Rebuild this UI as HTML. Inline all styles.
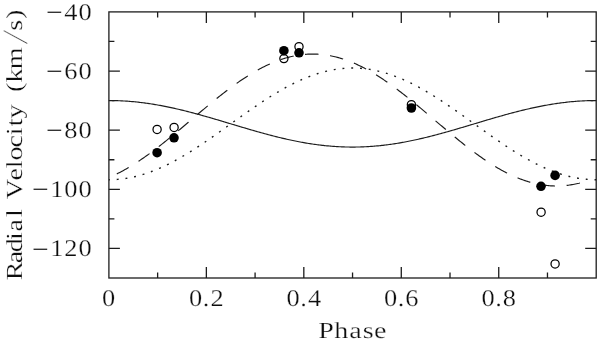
<!DOCTYPE html>
<html><head><meta charset="utf-8">
<style>html,body{margin:0;padding:0;background:#fff}svg{display:block}</style></head>
<body>
<svg width="600" height="341" viewBox="0 0 600 341">
<rect x="0" y="0" width="600" height="341" fill="#fff"/>
<rect x="108.9" y="11.9" width="487.30" height="266.10" fill="none" stroke="#1c1c1c" stroke-width="1.3"/>
<path d="M157.63 278.0v-5.5M157.63 11.9v5.5M206.36 278.0v-11M206.36 11.9v11M255.09 278.0v-5.5M255.09 11.9v5.5M303.82 278.0v-11M303.82 11.9v11M352.55 278.0v-5.5M352.55 11.9v5.5M401.28 278.0v-11M401.28 11.9v11M450.01 278.0v-5.5M450.01 11.9v5.5M498.74 278.0v-11M498.74 11.9v11M547.47 278.0v-5.5M547.47 11.9v5.5M108.9 248.43h11M596.2 248.43h-11M108.9 218.87h5.5M596.2 218.87h-5.5M108.9 189.30h11M596.2 189.30h-11M108.9 159.73h5.5M596.2 159.73h-5.5M108.9 130.17h11M596.2 130.17h-11M108.9 100.60h5.5M596.2 100.60h-5.5M108.9 71.03h11M596.2 71.03h-11M108.9 41.47h5.5M596.2 41.47h-5.5" fill="none" stroke="#1c1c1c" stroke-width="1.3"/>
<path d="M108.90 100.54L110.12 100.54L111.34 100.55L112.55 100.57L113.77 100.59L114.99 100.61L116.21 100.64L117.43 100.68L118.65 100.72L119.86 100.77L121.08 100.83L122.30 100.89L123.52 100.95L124.74 101.02L125.96 101.10L127.17 101.18L128.39 101.27L129.61 101.37L130.83 101.46L132.05 101.57L133.27 101.68L134.48 101.80L135.70 101.92L136.92 102.04L138.14 102.17L139.36 102.31L140.57 102.45L141.79 102.60L143.01 102.76L144.23 102.91L145.45 103.08L146.67 103.25L147.88 103.42L149.10 103.60L150.32 103.78L151.54 103.97L152.76 104.16L153.98 104.36L155.19 104.56L156.41 104.77L157.63 104.98L158.85 105.20L160.07 105.42L161.28 105.65L162.50 105.88L163.72 106.12L164.94 106.36L166.16 106.60L167.38 106.85L168.59 107.10L169.81 107.36L171.03 107.62L172.25 107.88L173.47 108.15L174.69 108.42L175.90 108.70L177.12 108.98L178.34 109.26L179.56 109.55L180.78 109.84L182.00 110.13L183.21 110.43L184.43 110.73L185.65 111.03L186.87 111.34L188.09 111.65L189.30 111.96L190.52 112.28L191.74 112.60L192.96 112.92L194.18 113.25L195.40 113.57L196.61 113.90L197.83 114.23L199.05 114.57L200.27 114.91L201.49 115.24L202.71 115.58L203.92 115.93L205.14 116.27L206.36 116.62L207.58 116.97L208.80 117.32L210.01 117.67L211.23 118.02L212.45 118.38L213.67 118.73L214.89 119.09L216.11 119.45L217.32 119.81L218.54 120.17L219.76 120.53L220.98 120.89L222.20 121.26L223.42 121.62L224.63 121.98L225.85 122.35L227.07 122.71L228.29 123.08L229.51 123.44L230.73 123.81L231.94 124.18L233.16 124.54L234.38 124.91L235.60 125.27L236.82 125.64L238.03 126.00L239.25 126.36L240.47 126.73L241.69 127.09L242.91 127.45L244.13 127.81L245.34 128.17L246.56 128.53L247.78 128.89L249.00 129.24L250.22 129.60L251.44 129.95L252.65 130.30L253.87 130.65L255.09 131.00L256.31 131.35L257.53 131.69L258.74 132.03L259.96 132.38L261.18 132.71L262.40 133.05L263.62 133.39L264.84 133.72L266.05 134.05L267.27 134.37L268.49 134.70L269.71 135.02L270.93 135.34L272.15 135.65L273.36 135.97L274.58 136.28L275.80 136.59L277.02 136.89L278.24 137.19L279.46 137.49L280.67 137.78L281.89 138.07L283.11 138.36L284.33 138.64L285.55 138.92L286.76 139.20L287.98 139.47L289.20 139.74L290.42 140.00L291.64 140.26L292.86 140.52L294.07 140.77L295.29 141.02L296.51 141.26L297.73 141.50L298.95 141.74L300.17 141.97L301.38 142.20L302.60 142.42L303.82 142.63L305.04 142.85L306.26 143.06L307.47 143.26L308.69 143.46L309.91 143.65L311.13 143.84L312.35 144.02L313.57 144.20L314.78 144.37L316.00 144.54L317.22 144.71L318.44 144.86L319.66 145.02L320.88 145.17L322.09 145.31L323.31 145.44L324.53 145.58L325.75 145.70L326.97 145.82L328.19 145.94L329.40 146.05L330.62 146.15L331.84 146.25L333.06 146.35L334.28 146.44L335.49 146.52L336.71 146.60L337.93 146.67L339.15 146.73L340.37 146.79L341.59 146.85L342.80 146.90L344.02 146.94L345.24 146.98L346.46 147.01L347.68 147.03L348.90 147.05L350.11 147.07L351.33 147.08L352.55 147.08L353.77 147.08L354.99 147.07L356.20 147.05L357.42 147.03L358.64 147.01L359.86 146.98L361.08 146.94L362.30 146.90L363.51 146.85L364.73 146.79L365.95 146.73L367.17 146.67L368.39 146.60L369.61 146.52L370.82 146.44L372.04 146.35L373.26 146.25L374.48 146.15L375.70 146.05L376.92 145.94L378.13 145.82L379.35 145.70L380.57 145.58L381.79 145.44L383.01 145.31L384.22 145.17L385.44 145.02L386.66 144.86L387.88 144.71L389.10 144.54L390.32 144.37L391.53 144.20L392.75 144.02L393.97 143.84L395.19 143.65L396.41 143.46L397.63 143.26L398.84 143.06L400.06 142.85L401.28 142.63L402.50 142.42L403.72 142.20L404.93 141.97L406.15 141.74L407.37 141.50L408.59 141.26L409.81 141.02L411.03 140.77L412.24 140.52L413.46 140.26L414.68 140.00L415.90 139.74L417.12 139.47L418.34 139.20L419.55 138.92L420.77 138.64L421.99 138.36L423.21 138.07L424.43 137.78L425.65 137.49L426.86 137.19L428.08 136.89L429.30 136.59L430.52 136.28L431.74 135.97L432.95 135.65L434.17 135.34L435.39 135.02L436.61 134.70L437.83 134.37L439.05 134.05L440.26 133.72L441.48 133.39L442.70 133.05L443.92 132.71L445.14 132.38L446.36 132.03L447.57 131.69L448.79 131.35L450.01 131.00L451.23 130.65L452.45 130.30L453.66 129.95L454.88 129.60L456.10 129.24L457.32 128.89L458.54 128.53L459.76 128.17L460.97 127.81L462.19 127.45L463.41 127.09L464.63 126.73L465.85 126.36L467.07 126.00L468.28 125.64L469.50 125.27L470.72 124.91L471.94 124.54L473.16 124.18L474.38 123.81L475.59 123.44L476.81 123.08L478.03 122.71L479.25 122.35L480.47 121.98L481.68 121.62L482.90 121.26L484.12 120.89L485.34 120.53L486.56 120.17L487.78 119.81L488.99 119.45L490.21 119.09L491.43 118.73L492.65 118.38L493.87 118.02L495.09 117.67L496.30 117.32L497.52 116.97L498.74 116.62L499.96 116.27L501.18 115.93L502.39 115.58L503.61 115.24L504.83 114.91L506.05 114.57L507.27 114.23L508.49 113.90L509.70 113.57L510.92 113.25L512.14 112.92L513.36 112.60L514.58 112.28L515.80 111.96L517.01 111.65L518.23 111.34L519.45 111.03L520.67 110.73L521.89 110.43L523.11 110.13L524.32 109.84L525.54 109.55L526.76 109.26L527.98 108.98L529.20 108.70L530.41 108.42L531.63 108.15L532.85 107.88L534.07 107.62L535.29 107.36L536.51 107.10L537.72 106.85L538.94 106.60L540.16 106.36L541.38 106.12L542.60 105.88L543.82 105.65L545.03 105.42L546.25 105.20L547.47 104.98L548.69 104.77L549.91 104.56L551.12 104.36L552.34 104.16L553.56 103.97L554.78 103.78L556.00 103.60L557.22 103.42L558.43 103.25L559.65 103.08L560.87 102.91L562.09 102.76L563.31 102.60L564.53 102.45L565.74 102.31L566.96 102.17L568.18 102.04L569.40 101.92L570.62 101.80L571.84 101.68L573.05 101.57L574.27 101.46L575.49 101.37L576.71 101.27L577.93 101.18L579.14 101.10L580.36 101.02L581.58 100.95L582.80 100.89L584.02 100.83L585.24 100.77L586.45 100.72L587.67 100.68L588.89 100.64L590.11 100.61L591.33 100.59L592.55 100.57L593.76 100.55L594.98 100.54L596.20 100.54" fill="none" stroke="#1c1c1c" stroke-width="1.15"/>
<path d="M116.80 173.92L117.97 173.34L119.15 172.74L120.32 172.14L121.49 171.52L122.66 170.89L123.84 170.25L125.01 169.60L126.18 168.93L127.36 168.26L128.53 167.57L129.70 166.88L130.88 166.17L132.05 165.45L133.22 164.72L134.39 163.98L135.57 163.23L136.74 162.48L137.91 161.71L139.09 160.93L140.26 160.14L141.43 159.34L142.61 158.54L143.78 157.72L144.95 156.90L146.12 156.07L147.30 155.23L148.47 154.38L149.64 153.53L150.82 152.66L151.99 151.79L153.16 150.92L154.34 150.03L155.51 149.14L156.68 148.24L157.85 147.34L159.03 146.42L160.20 145.51L161.37 144.58L162.55 143.66L163.72 142.72L164.89 141.78L166.07 140.84L167.24 139.89L168.41 138.93L169.58 137.98L170.76 137.01L171.93 136.05L173.10 135.08L174.28 134.11L175.45 133.13L176.62 132.15L177.80 131.17L178.97 130.18L180.14 129.20L181.31 128.21L182.49 127.22L183.66 126.23L184.83 125.23L186.01 124.24L187.18 123.24L188.35 122.24L189.53 121.25L190.70 120.25L191.87 119.25L193.05 118.25L194.22 117.26L195.39 116.26L196.56 115.26L197.74 114.27L198.91 113.28L200.08 112.28L201.26 111.30L202.43 110.31L203.60 109.32L204.77 108.34L205.95 107.36L207.12 106.38L208.29 105.41L209.47 104.43L210.64 103.47L211.81 102.50L212.99 101.54L214.16 100.59L215.33 99.64L216.50 98.69L217.68 97.75L218.85 96.81L220.02 95.88L221.20 94.96L222.37 94.04L223.54 93.12L224.72 92.21L225.89 91.31L227.06 90.42L228.24 89.53L229.41 88.65L230.58 87.77L231.75 86.91L232.93 86.05L234.10 85.20L235.27 84.35L236.45 83.52L237.62 82.69L238.79 81.87L239.97 81.07L241.14 80.26L242.31 79.47L243.48 78.69L244.66 77.92L245.83 77.15L247.00 76.40L248.18 75.66L249.35 74.93L250.52 74.20L251.69 73.49L252.87 72.79L254.04 72.10L255.21 71.42L256.39 70.75L257.56 70.09L258.73 69.44L259.91 68.81L261.08 68.19L262.25 67.58L263.43 66.98L264.60 66.39L265.77 65.82L266.94 65.25L268.12 64.70L269.29 64.17L270.46 63.64L271.64 63.13L272.81 62.63L273.98 62.15L275.15 61.68L276.33 61.22L277.50 60.77L278.67 60.34L279.85 59.92L281.02 59.52L282.19 59.13L283.37 58.75L284.54 58.39L285.71 58.04L286.88 57.71L288.06 57.39L289.23 57.08L290.40 56.79L291.58 56.51L292.75 56.25L293.92 56.00L295.10 55.77L296.27 55.55L297.44 55.35L298.62 55.16L299.79 54.99L300.96 54.83L302.13 54.68L303.31 54.55L304.48 54.44L305.65 54.34L306.83 54.26L308.00 54.19L309.17 54.13L310.34 54.09L311.52 54.07L312.69 54.06L313.86 54.07L315.04 54.09L316.21 54.13L317.38 54.18L318.56 54.24L319.73 54.33L320.90 54.42L322.07 54.53L323.25 54.66L324.42 54.80L325.59 54.96L326.77 55.13L327.94 55.32L329.11 55.52L330.29 55.73L331.46 55.96L332.63 56.21L333.81 56.47L334.98 56.74L336.15 57.03L337.32 57.34L338.50 57.65L339.67 57.99L340.84 58.33L342.02 58.69L343.19 59.07L344.36 59.45L345.54 59.86L346.71 60.27L347.88 60.70L349.05 61.14L350.23 61.60L351.40 62.07L352.57 62.55L353.75 63.05L354.92 63.56L356.09 64.08L357.26 64.62L358.44 65.16L359.61 65.72L360.78 66.30L361.96 66.88L363.13 67.48L364.30 68.09L365.48 68.71L366.65 69.34L367.82 69.99L369.00 70.64L370.17 71.31L371.34 71.99L372.51 72.68L373.69 73.38L374.86 74.09L376.03 74.81L377.21 75.54L378.38 76.28L379.55 77.03L380.73 77.79L381.90 78.56L383.07 79.35L384.24 80.14L385.42 80.93L386.59 81.74L387.76 82.56L388.94 83.38L390.11 84.22L391.28 85.06L392.45 85.91L393.63 86.77L394.80 87.63L395.97 88.51L397.15 89.39L398.32 90.27L399.49 91.17L400.67 92.07L401.84 92.97L403.01 93.89L404.19 94.81L405.36 95.73L406.53 96.66L407.70 97.60L408.88 98.54L410.05 99.48L411.22 100.43L412.40 101.39L413.57 102.35L414.74 103.31L415.92 104.28L417.09 105.25L418.26 106.22L419.43 107.20L420.61 108.18L421.78 109.16L422.95 110.15L424.13 111.13L425.30 112.12L426.47 113.12L427.65 114.11L428.82 115.10L429.99 116.10L431.16 117.09L432.34 118.09L433.51 119.09L434.68 120.09L435.86 121.08L437.03 122.08L438.20 123.08L439.38 124.07L440.55 125.07L441.72 126.06L442.89 127.06L444.07 128.05L445.24 129.04L446.41 130.02L447.59 131.01L448.76 131.99L449.93 132.97L451.11 133.95L452.28 134.92L453.45 135.89L454.62 136.86L455.80 137.82L456.97 138.78L458.14 139.73L459.32 140.68L460.49 141.63L461.66 142.57L462.84 143.50L464.01 144.43L465.18 145.36L466.35 146.28L467.53 147.19L468.70 148.09L469.87 148.99L471.05 149.89L472.22 150.77L473.39 151.65L474.56 152.52L475.74 153.39L476.91 154.24L478.08 155.09L479.26 155.93L480.43 156.77L481.60 157.59L482.78 158.41L483.95 159.21L485.12 160.01L486.30 160.80L487.47 161.58L488.64 162.35L489.81 163.11L490.99 163.86L492.16 164.60L493.33 165.33L494.51 166.05L495.68 166.76L496.85 167.46L498.03 168.15L499.20 168.82L500.37 169.49L501.54 170.14L502.72 170.79L503.89 171.42L505.06 172.04L506.24 172.65L507.41 173.24L508.58 173.83L509.75 174.40L510.93 174.95L512.10 175.50L513.27 176.03L514.45 176.55L515.62 177.06L516.79 177.56L517.97 178.04L519.14 178.51L520.31 178.96L521.49 179.40L522.66 179.83L523.83 180.24L525.00 180.64L526.18 181.03L527.35 181.40L528.52 181.76L529.70 182.11L530.87 182.44L532.04 182.75L533.22 183.05L534.39 183.34L535.56 183.61L536.73 183.87L537.91 184.11L539.08 184.34L540.25 184.56L541.43 184.76L542.60 184.94L543.77 185.11L544.94 185.27L546.12 185.41L547.29 185.53L548.46 185.64L549.64 185.74L550.81 185.82L551.98 185.88L553.16 185.93L554.33 185.96L555.50 185.98L556.67 185.99L557.85 185.98L559.02 185.95L560.19 185.91L561.37 185.86L562.54 185.78L563.71 185.70L564.89 185.60L566.06 185.48L567.23 185.35L568.40 185.20L569.58 185.04L570.75 184.87L571.92 184.68L573.10 184.47L574.27 184.25L575.44 184.02L576.62 183.77L577.79 183.50L578.96 183.23L580.13 182.93L581.31 182.63L582.48 182.30L583.65 181.97L584.83 181.62L586.00 181.25" fill="none" stroke="#1c1c1c" stroke-width="1.15" stroke-dasharray="13.5 11.58"/>
<path d="M108.90 179.75L110.12 179.74L111.34 179.72L112.55 179.69L113.77 179.64L114.99 179.58L116.21 179.50L117.43 179.41L118.65 179.31L119.86 179.19L121.08 179.06L122.30 178.92L123.52 178.76L124.74 178.59L125.96 178.40L127.17 178.21L128.39 178.00L129.61 177.77L130.83 177.53L132.05 177.28L133.27 177.02L134.48 176.74L135.70 176.45L136.92 176.14L138.14 175.83L139.36 175.50L140.57 175.16L141.79 174.80L143.01 174.43L144.23 174.05L145.45 173.66L146.67 173.26L147.88 172.84L149.10 172.41L150.32 171.97L151.54 171.52L152.76 171.06L153.98 170.58L155.19 170.09L156.41 169.59L157.63 169.08L158.85 168.56L160.07 168.03L161.28 167.49L162.50 166.93L163.72 166.37L164.94 165.79L166.16 165.21L167.38 164.61L168.59 164.01L169.81 163.39L171.03 162.77L172.25 162.13L173.47 161.49L174.69 160.83L175.90 160.17L177.12 159.50L178.34 158.82L179.56 158.13L180.78 157.43L182.00 156.73L183.21 156.01L184.43 155.29L185.65 154.56L186.87 153.83L188.09 153.08L189.30 152.33L190.52 151.57L191.74 150.81L192.96 150.03L194.18 149.25L195.40 148.47L196.61 147.68L197.83 146.88L199.05 146.08L200.27 145.27L201.49 144.46L202.71 143.64L203.92 142.82L205.14 141.99L206.36 141.16L207.58 140.32L208.80 139.48L210.01 138.64L211.23 137.79L212.45 136.94L213.67 136.08L214.89 135.22L216.11 134.36L217.32 133.50L218.54 132.64L219.76 131.77L220.98 130.90L222.20 130.03L223.42 129.15L224.63 128.28L225.85 127.41L227.07 126.53L228.29 125.65L229.51 124.78L230.73 123.90L231.94 123.02L233.16 122.14L234.38 121.27L235.60 120.39L236.82 119.52L238.03 118.64L239.25 117.77L240.47 116.90L241.69 116.03L242.91 115.16L244.13 114.30L245.34 113.43L246.56 112.57L247.78 111.71L249.00 110.86L250.22 110.01L251.44 109.16L252.65 108.32L253.87 107.48L255.09 106.64L256.31 105.81L257.53 104.98L258.74 104.16L259.96 103.34L261.18 102.53L262.40 101.72L263.62 100.91L264.84 100.12L266.05 99.33L267.27 98.54L268.49 97.76L269.71 96.99L270.93 96.23L272.15 95.47L273.36 94.72L274.58 93.97L275.80 93.23L277.02 92.51L278.24 91.78L279.46 91.07L280.67 90.36L281.89 89.67L283.11 88.98L284.33 88.30L285.55 87.63L286.76 86.96L287.98 86.31L289.20 85.67L290.42 85.03L291.64 84.41L292.86 83.79L294.07 83.18L295.29 82.59L296.51 82.00L297.73 81.43L298.95 80.86L300.17 80.31L301.38 79.77L302.60 79.23L303.82 78.71L305.04 78.20L306.26 77.70L307.47 77.22L308.69 76.74L309.91 76.28L311.13 75.82L312.35 75.38L313.57 74.96L314.78 74.54L316.00 74.13L317.22 73.74L318.44 73.36L319.66 73.00L320.88 72.64L322.09 72.30L323.31 71.97L324.53 71.65L325.75 71.35L326.97 71.06L328.19 70.78L329.40 70.52L330.62 70.26L331.84 70.03L333.06 69.80L334.28 69.59L335.49 69.39L336.71 69.21L337.93 69.04L339.15 68.88L340.37 68.73L341.59 68.60L342.80 68.49L344.02 68.38L345.24 68.29L346.46 68.22L347.68 68.16L348.90 68.11L350.11 68.07L351.33 68.05L352.55 68.05L353.77 68.05L354.99 68.07L356.20 68.11L357.42 68.16L358.64 68.22L359.86 68.29L361.08 68.38L362.30 68.49L363.51 68.60L364.73 68.73L365.95 68.88L367.17 69.04L368.39 69.21L369.61 69.39L370.82 69.59L372.04 69.80L373.26 70.03L374.48 70.26L375.70 70.52L376.92 70.78L378.13 71.06L379.35 71.35L380.57 71.65L381.79 71.97L383.01 72.30L384.22 72.64L385.44 73.00L386.66 73.36L387.88 73.74L389.10 74.13L390.32 74.54L391.53 74.96L392.75 75.38L393.97 75.82L395.19 76.28L396.41 76.74L397.63 77.22L398.84 77.70L400.06 78.20L401.28 78.71L402.50 79.23L403.72 79.77L404.93 80.31L406.15 80.86L407.37 81.43L408.59 82.00L409.81 82.59L411.03 83.18L412.24 83.79L413.46 84.41L414.68 85.03L415.90 85.67L417.12 86.31L418.34 86.96L419.55 87.63L420.77 88.30L421.99 88.98L423.21 89.67L424.43 90.36L425.65 91.07L426.86 91.78L428.08 92.51L429.30 93.23L430.52 93.97L431.74 94.72L432.95 95.47L434.17 96.23L435.39 96.99L436.61 97.76L437.83 98.54L439.05 99.33L440.26 100.12L441.48 100.91L442.70 101.72L443.92 102.53L445.14 103.34L446.36 104.16L447.57 104.98L448.79 105.81L450.01 106.64L451.23 107.48L452.45 108.32L453.66 109.16L454.88 110.01L456.10 110.86L457.32 111.71L458.54 112.57L459.76 113.43L460.97 114.30L462.19 115.16L463.41 116.03L464.63 116.90L465.85 117.77L467.07 118.64L468.28 119.52L469.50 120.39L470.72 121.27L471.94 122.14L473.16 123.02L474.38 123.90L475.59 124.78L476.81 125.65L478.03 126.53L479.25 127.41L480.47 128.28L481.68 129.15L482.90 130.03L484.12 130.90L485.34 131.77L486.56 132.64L487.78 133.50L488.99 134.36L490.21 135.22L491.43 136.08L492.65 136.94L493.87 137.79L495.09 138.64L496.30 139.48L497.52 140.32L498.74 141.16L499.96 141.99L501.18 142.82L502.39 143.64L503.61 144.46L504.83 145.27L506.05 146.08L507.27 146.88L508.49 147.68L509.70 148.47L510.92 149.25L512.14 150.03L513.36 150.81L514.58 151.57L515.80 152.33L517.01 153.08L518.23 153.83L519.45 154.56L520.67 155.29L521.89 156.01L523.11 156.73L524.32 157.43L525.54 158.13L526.76 158.82L527.98 159.50L529.20 160.17L530.41 160.83L531.63 161.49L532.85 162.13L534.07 162.77L535.29 163.39L536.51 164.01L537.72 164.61L538.94 165.21L540.16 165.79L541.38 166.37L542.60 166.93L543.82 167.49L545.03 168.03L546.25 168.56L547.47 169.08L548.69 169.59L549.91 170.09L551.12 170.58L552.34 171.06L553.56 171.52L554.78 171.97L556.00 172.41L557.22 172.84L558.43 173.26L559.65 173.66L560.87 174.05L562.09 174.43L563.31 174.80L564.53 175.16L565.74 175.50L566.96 175.83L568.18 176.14L569.40 176.45L570.62 176.74L571.84 177.02L573.05 177.28L574.27 177.53L575.49 177.77L576.71 178.00L577.93 178.21L579.14 178.40L580.36 178.59L581.58 178.76L582.80 178.92L584.02 179.06L585.24 179.19L586.45 179.31L587.67 179.41L588.89 179.50L590.11 179.58L591.33 179.64L592.55 179.69L593.76 179.72L594.98 179.74L596.20 179.75" fill="none" stroke="#1c1c1c" stroke-width="1.4" stroke-dasharray="1.9 6.885" stroke-dashoffset="0.95"/>
<circle cx="157.1" cy="129.45" r="4.1" fill="none" stroke="#000" stroke-width="1.25"/>
<circle cx="174.1" cy="127.45" r="4.1" fill="none" stroke="#000" stroke-width="1.25"/>
<circle cx="283.9" cy="58.6" r="4.1" fill="none" stroke="#000" stroke-width="1.25"/>
<circle cx="299.0" cy="46.7" r="4.1" fill="none" stroke="#000" stroke-width="1.25"/>
<circle cx="411.4" cy="104.7" r="4.1" fill="none" stroke="#000" stroke-width="1.25"/>
<circle cx="541.1" cy="212.2" r="4.1" fill="none" stroke="#000" stroke-width="1.25"/>
<circle cx="555.1" cy="263.9" r="4.1" fill="none" stroke="#000" stroke-width="1.25"/>
<circle cx="157.1" cy="152.7" r="4.8" fill="#000"/>
<circle cx="174.0" cy="137.8" r="4.8" fill="#000"/>
<circle cx="283.9" cy="50.7" r="4.8" fill="#000"/>
<circle cx="299.0" cy="52.8" r="4.8" fill="#000"/>
<circle cx="411.4" cy="108.0" r="4.8" fill="#000"/>
<circle cx="541.0" cy="186.3" r="4.8" fill="#000"/>
<circle cx="555.1" cy="175.4" r="4.8" fill="#000"/>
<g text-rendering="geometricPrecision" font-family="&quot;Liberation Serif&quot;, serif" fill="#0d0d0d" stroke="#fff" stroke-width="0.25" font-size="24.0"><text transform="scale(1.22,1)" x="33.20" y="257" text-anchor="middle" text-rendering="auto" stroke="none">−</text><text transform="scale(1.1,1)" x="51.64 64.45 77.27" y="256.1" text-anchor="middle">120</text></g>
<g text-rendering="geometricPrecision" font-family="&quot;Liberation Serif&quot;, serif" fill="#0d0d0d" stroke="#fff" stroke-width="0.25" font-size="24.0"><text transform="scale(1.22,1)" x="33.20" y="197" text-anchor="middle" text-rendering="auto" stroke="none">−</text><text transform="scale(1.1,1)" x="51.64 64.45 77.27" y="197.0" text-anchor="middle">100</text></g>
<g text-rendering="geometricPrecision" font-family="&quot;Liberation Serif&quot;, serif" fill="#0d0d0d" stroke="#fff" stroke-width="0.25" font-size="24.0"><text transform="scale(1.22,1)" x="44.75" y="138" text-anchor="middle" text-rendering="auto" stroke="none">−</text><text transform="scale(1.1,1)" x="64.45 77.27" y="137.9" text-anchor="middle">80</text></g>
<g text-rendering="geometricPrecision" font-family="&quot;Liberation Serif&quot;, serif" fill="#0d0d0d" stroke="#fff" stroke-width="0.25" font-size="24.0"><text transform="scale(1.22,1)" x="44.75" y="79" text-anchor="middle" text-rendering="auto" stroke="none">−</text><text transform="scale(1.1,1)" x="64.45 77.27" y="78.7" text-anchor="middle">60</text></g>
<g text-rendering="geometricPrecision" font-family="&quot;Liberation Serif&quot;, serif" fill="#0d0d0d" stroke="#fff" stroke-width="0.25" font-size="24.0"><text transform="scale(1.22,1)" x="44.75" y="20" text-anchor="middle" text-rendering="auto" stroke="none">−</text><text transform="scale(1.1,1)" x="64.45 77.27" y="19.6" text-anchor="middle">40</text></g>
<g text-rendering="geometricPrecision" font-family="&quot;Liberation Serif&quot;, serif" fill="#0d0d0d" stroke="#fff" stroke-width="0.25" font-size="24.0"><text transform="scale(1.1,1)" x="98.73" y="306.1" text-anchor="middle">0</text></g>
<g text-rendering="geometricPrecision" font-family="&quot;Liberation Serif&quot;, serif" fill="#0d0d0d" stroke="#fff" stroke-width="0.25" font-size="24.0"><text transform="scale(1.1,1)" x="177.87 187.42 197.33" y="306.1" text-anchor="middle">0.2</text></g>
<g text-rendering="geometricPrecision" font-family="&quot;Liberation Serif&quot;, serif" fill="#0d0d0d" stroke="#fff" stroke-width="0.25" font-size="24.0"><text transform="scale(1.1,1)" x="266.47 276.02 285.93" y="306.1" text-anchor="middle">0.4</text></g>
<g text-rendering="geometricPrecision" font-family="&quot;Liberation Serif&quot;, serif" fill="#0d0d0d" stroke="#fff" stroke-width="0.25" font-size="24.0"><text transform="scale(1.1,1)" x="355.07 364.62 374.53" y="306.1" text-anchor="middle">0.6</text></g>
<g text-rendering="geometricPrecision" font-family="&quot;Liberation Serif&quot;, serif" fill="#0d0d0d" stroke="#fff" stroke-width="0.25" font-size="24.0"><text transform="scale(1.1,1)" x="443.67 453.22 463.13" y="306.1" text-anchor="middle">0.8</text></g>
<g text-rendering="geometricPrecision" font-family="&quot;Liberation Serif&quot;, serif" fill="#0d0d0d" stroke="#fff" stroke-width="0.25" font-size="23.0"><text transform="scale(1.22,1)" x="267.30 279.63 291.39 301.72 311.60" y="338.0" text-anchor="middle">Phase</text></g>
<g transform="translate(22,0)" stroke="#fff" stroke-width="0.25" text-rendering="geometricPrecision" font-family="&quot;Liberation Serif&quot;, serif" font-size="23.0" fill="#0d0d0d"><text transform="rotate(-90) scale(1.22,1)" x="-222.05 -210.66 -201.07 -193.44 -184.59 -174.67 -164.75 -154.92 -142.95 -134.75 -125.82 -115.90 -107.62 -100.33 -91.39 -81.15 -71.56 -61.97 -47.87" y="0" text-anchor="middle">Radial Velocity (km</text><text transform="rotate(-90) translate(-40.70,5.0) skewX(-18) scale(1,1.54)" x="0" y="0" text-anchor="middle">/</text><text transform="rotate(-90) scale(1.22,1)" x="-20.66 -11.80" y="0" text-anchor="middle">s)</text></g>
</svg>
</body></html>
